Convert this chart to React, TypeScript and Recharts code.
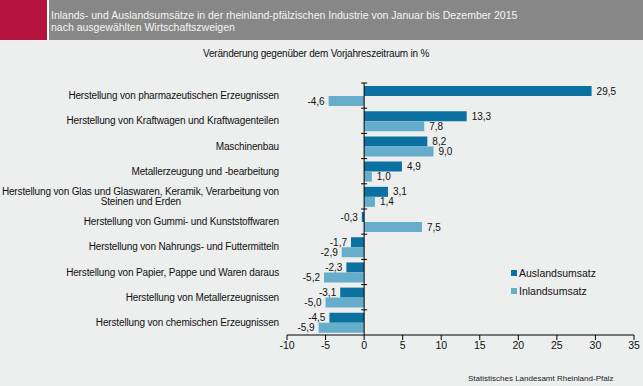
import React from "react";
import {
  Bar,
  BarChart,
  XAxis,
  YAxis,
  ReferenceLine,
  LabelList,
  Legend,
} from "recharts";

const categories = [
  "Herstellung von pharmazeutischen Erzeugnissen",
  "Herstellung von Kraftwagen und Kraftwagenteilen",
  "Maschinenbau",
  "Metallerzeugung und -bearbeitung",
  "Herstellung von Glas und Glaswaren, Keramik, Verarbeitung von\nSteinen und Erden",
  "Herstellung von Gummi- und Kunststoffwaren",
  "Herstellung von Nahrungs- und Futtermitteln",
  "Herstellung von Papier, Pappe und Waren daraus",
  "Herstellung von Metallerzeugnissen",
  "Herstellung von chemischen Erzeugnissen",
];

const auslandsumsatz = [29.5, 13.3, 8.2, 4.9, 3.1, -0.3, -1.7, -2.3, -3.1, -4.5];
const inlandsumsatz = [-4.6, 7.8, 9.0, 1.0, 1.4, 7.5, -2.9, -5.2, -5.0, -5.9];

const xTicks = [-10, -5, 0, 5, 10, 15, 20, 25, 30, 35];

const FONT = "Arial, 'Liberation Sans', sans-serif";
const DARK = "#0A71A1";
const LIGHT = "#66ACCB";

const data = categories.map((name, i) => ({
  name,
  ausland: auslandsumsatz[i],
  inland: inlandsumsatz[i],
}));

const fmt = (v: number) => v.toFixed(1).replace(".", ",");

function CategoryTick(props: any) {
  const { x, y, payload } = props;
  const lines = String(payload.value).split("\n");
  const common = { fontSize: 10, letterSpacing: -0.15, fill: "#111", fontFamily: FONT };
  if (lines.length === 1) {
    return (
      <text x={x} y={y} dy={3.5} textAnchor="end" {...common}>
        {lines[0]}
      </text>
    );
  }
  // zweizeilig: zweite Zeile mittig unter der ersten
  return (
    <g>
      <text x={x} y={y - 5} dy={3.5} textAnchor="end" {...common}>
        {lines[0]}
      </text>
      <text x={x - 98} y={y + 5} dy={3.5} textAnchor="end" {...common}>
        {lines[1]}
      </text>
    </g>
  );
}

function ValueLabel(props: any) {
  const { x, y, width, height, value } = props;
  const v = Number(value);
  const end = v >= 0 ? Math.max(x, x + width) : Math.min(x, x + width);
  return (
    <text
      x={v >= 0 ? end + 5 : end - 4}
      y={y + height / 2}
      dy={3.5}
      textAnchor={v >= 0 ? "start" : "end"}
      fontSize={10}
      fill="#111"
      fontFamily={FONT}
    >
      {fmt(v)}
    </text>
  );
}

function ZeroAxis(props: any) {
  const { x1, y1, x2, y2 } = props;
  const top = Math.min(y1, y2);
  const bottom = Math.max(y1, y2);
  const step = (bottom - top) / categories.length;
  return (
    <g>
      <line x1={x1} y1={y1} x2={x2} y2={y2} stroke="#000" strokeWidth={1} />
      {categories.map((_, i) => (
        <line key={i} x1={x1 - 3} x2={x1 + 3} y1={top + i * step} y2={top + i * step} stroke="#000" />
      ))}
    </g>
  );
}

function LegendBox(props: any) {
  const items = props.payload || [];
  return (
    <div style={{ fontFamily: FONT, fontSize: 10.5, color: "#111" }}>
      {items.map((it: any) => (
        <div key={it.value} style={{ display: "flex", alignItems: "center", height: 18 }}>
          <span style={{ width: 6, height: 6, background: it.color, marginRight: 2, display: "inline-block" }} />
          <span>{it.value}</span>
        </div>
      ))}
    </div>
  );
}

export default function App() {
  return (
    <div
      style={{
        position: "fixed",
        left: 0,
        top: 0,
        width: 643,
        height: 386,
        background: "#EDEEEE",
        overflow: "hidden",
        fontFamily: FONT,
      }}
    >
      <div style={{ position: "absolute", left: 0, top: 0, width: 47, height: 40, background: "#B5123E" }} />
      <div style={{ position: "absolute", left: 47, top: 0, width: 2, height: 40, background: "#fff" }} />
      <div
        style={{
          position: "absolute",
          left: 49,
          top: 0,
          width: 594,
          height: 40,
          background: "#878787",
          color: "#F4F4F4",
          fontSize: 10.5,
          lineHeight: "12px",
          paddingTop: 9,
          paddingLeft: 2,
          boxSizing: "border-box",
          letterSpacing: 0,
        }}
      >
        Inlands- und Auslandsumsätze in der rheinland-pfälzischen Industrie von Januar bis Dezember 2015
        <br />
        nach ausgewählten Wirtschaftszweigen
      </div>
      <div
        style={{
          position: "absolute",
          left: 203,
          top: 48,
          fontSize: 10,
          color: "#111",
          whiteSpace: "nowrap",
          letterSpacing: -0.2,
        }}
      >
        Veränderung gegenüber dem Vorjahreszeitraum in %
      </div>
      <div
        style={{
          position: "absolute",
          left: 468,
          top: 374,
          fontSize: 8,
          color: "#1a1a2a",
          whiteSpace: "nowrap",
        }}
      >
        Statistisches Landesamt Rheinland-Pfalz
      </div>
      <div style={{ position: "absolute", left: 0, top: 0 }}>
        <BarChart
          width={643}
          height={386}
          data={data}
          layout="vertical"
          margin={{ top: 83, right: 9, bottom: 21, left: 0 }}
          barCategoryGap="12%"
          barGap={0}
        >
          <XAxis
            type="number"
            domain={[-10, 35]}
            ticks={xTicks}
            height={30}
            axisLine={{ stroke: "#000" }}
            tickLine={{ stroke: "#000" }}
            tickSize={5}
            tick={{ fontSize: 10.5, fill: "#111", fontFamily: FONT }}
            interval={0}
          />
          <YAxis
            type="category"
            dataKey="name"
            width={287}
            axisLine={false}
            tickLine={false}
            interval={0}
            tick={<CategoryTick />}
          />
          <ReferenceLine x={0} shape={<ZeroAxis />} />
          <Bar dataKey="ausland" name="Auslandsumsatz" fill={DARK} isAnimationActive={false}>
            <LabelList dataKey="ausland" content={<ValueLabel />} />
          </Bar>
          <Bar dataKey="inland" name="Inlandsumsatz" fill={LIGHT} isAnimationActive={false}>
            <LabelList dataKey="inland" content={<ValueLabel />} />
          </Bar>
          <Legend
            layout="vertical"
            align="center"
            verticalAlign="middle"
            content={<LegendBox />}
            wrapperStyle={{ left: 511, top: 264, width: 120 }}
          />
        </BarChart>
      </div>
    </div>
  );
}
